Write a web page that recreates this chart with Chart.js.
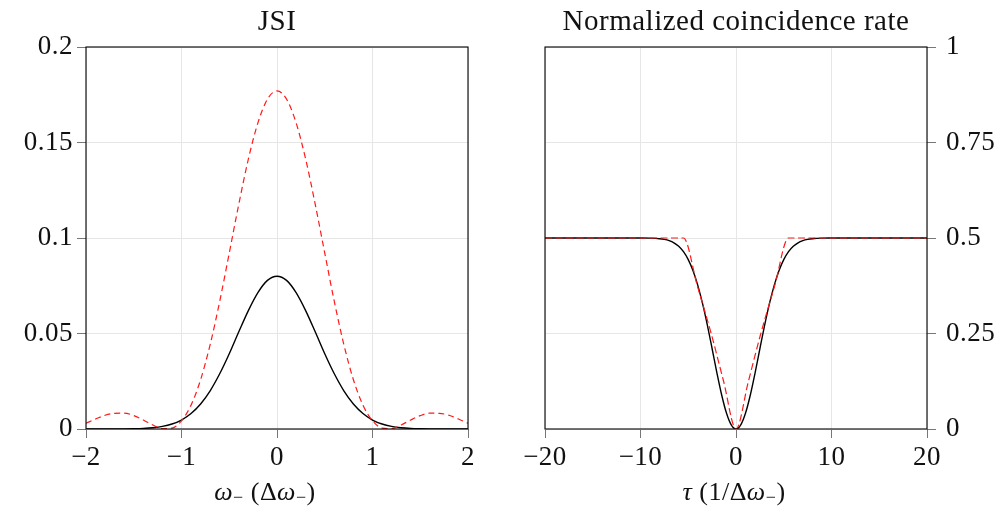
<!DOCTYPE html>
<html><head><meta charset="utf-8">
<script src="https://cdn.jsdelivr.net/npm/chart.js@4"></script>
<style>
html,body{margin:0;padding:0;background:#fff;}
#wrap{position:relative;width:1005px;height:510px;}
#c1{position:absolute;left:0;top:0;width:500px;height:510px;}
#c2{position:absolute;left:500px;top:0;width:505px;height:510px;}
</style></head><body>
<div id="wrap"><canvas id="c1" width="500" height="510"></canvas><canvas id="c2" width="505" height="510"></canvas></div>
<script>
// ---- Data ----
const omega = [-2.0,-1.9,-1.8,-1.7,-1.6,-1.5,-1.4,-1.3,-1.2,-1.1,-1.0,-0.9,-0.8,-0.7,-0.6,-0.5,-0.4,-0.3,-0.2,-0.1,0,
  0.1,0.2,0.3,0.4,0.5,0.6,0.7,0.8,0.9,1.0,1.1,1.2,1.3,1.4,1.5,1.6,1.7,1.8,1.9,2.0];
const jsiGaussian = [0,0,0,0.00002,0.00006,0.00014,0.00031,0.00067,0.00135,0.0026,0.0047,0.0081,0.0131,0.0200,0.0289,0.0394,0.0509,0.0620,0.0714,0.0778,0.0800,
  0.0778,0.0714,0.0620,0.0509,0.0394,0.0289,0.0200,0.0131,0.0081,0.0047,0.0026,0.00135,0.00067,0.00031,0.00014,0.00006,0.00002,0,0,0];
const jsiSinc = [0.0030,0.0052,0.0072,0.0082,0.0083,0.0070,0.0047,0.0021,0.0002,0.0005,0.0043,0.0125,0.0258,0.0442,0.0668,0.0921,0.1177,0.1413,0.1603,0.1727,0.1770,
  0.1727,0.1603,0.1413,0.1177,0.0921,0.0668,0.0442,0.0258,0.0125,0.0043,0.0005,0.0002,0.0021,0.0047,0.0070,0.0083,0.0082,0.0072,0.0052,0.0030];

const tau = [-20,-18,-16,-14,-12,-10,-9,-8,-7.5,-7,-6.5,-6,-5.5,-5,-4.5,-4,-3.5,-3,-2.5,-2,-1.5,-1,-0.5,0,
  0.5,1,1.5,2,2.5,3,3.5,4,4.5,5,5.5,6,6.5,7,7.5,8,9,10,12,14,16,18,20];
const rateGaussian = [0.5,0.5,0.5,0.5,0.5,0.4999,0.4996,0.4981,0.4963,0.4930,0.4874,0.4783,0.4642,0.4435,0.4144,0.3761,0.3281,0.2719,0.2101,0.1472,0.0891,0.0418,0.0108,0,
  0.0108,0.0418,0.0891,0.1472,0.2101,0.2719,0.3281,0.3761,0.4144,0.4435,0.4642,0.4783,0.4874,0.4930,0.4963,0.4981,0.4996,0.4999,0.5,0.5,0.5,0.5,0.5];
const tauSinc = [-20,-5.5,-4.05,-2.6,-1.3,0,1.3,2.6,4.05,5.5,20];
const rateSinc = [0.5,0.5,0.375,0.25,0.125,0,0.125,0.25,0.375,0.5,0.5];

const leftYTicks = [0,0.05,0.1,0.15,0.2];
const leftXTicks = [-2,-1,0,1,2];
const rightYTicks = [0,0.25,0.5,0.75,1];
const rightXTicks = [-20,-10,0,10,20];

const leftTitle = 'JSI';
const rightTitle = 'Normalized coincidence rate';
// axis titles: italic symbols, subscript minus
const leftXTitle = [{t:'\u03c9', it:true}, {t:'\u2212', sub:true}, {t:' (\u0394'}, {t:'\u03c9', it:true}, {t:'\u2212', sub:true}, {t:')'}];
const rightXTitle = [{t:'\u03c4', it:true}, {t:' (1/\u0394'}, {t:'\u03c9', it:true}, {t:'\u2212', sub:true}, {t:')'}];

// ---- helpers ----
const FONT = "'Liberation Serif', 'Times New Roman', serif";
const pts = (xs, ys) => xs.map((x,i)=>({x, y: ys[i]}));
const fmt = v => String(+(+v).toFixed(3)).replace('-', '\u2212');

const spacing = {
  id:'spacing',
  beforeInit(chart){ chart.ctx.letterSpacing = '0.5px'; },
  beforeLayout(chart){ chart.ctx.letterSpacing = '0.5px'; },
  beforeDraw(chart){ chart.ctx.letterSpacing = '0.5px'; }
};

const frame = {
  id:'frame',
  afterDatasetsDraw(chart){
    const a = chart.chartArea, c = chart.ctx;
    c.save(); c.strokeStyle='#000'; c.lineWidth=1.1;
    c.strokeRect(a.left, a.top, a.right-a.left, a.bottom-a.top);
    c.restore();
  }
};

const axisTitle = {
  id:'axisTitle',
  afterDraw(chart, args, opts){
    const c = chart.ctx, a = chart.chartArea;
    c.save();
    c.fillStyle = '#111'; c.textBaseline = 'alphabetic'; c.textAlign = 'left';
    c.letterSpacing = '0.5px';
    const fonts = {n:`26px ${FONT}`, it:`italic 26px ${FONT}`, sub:`18px ${FONT}`};
    const parts = opts.parts.map(p => {
      const f = p.it ? fonts.it : (p.sub ? fonts.sub : fonts.n);
      c.font = f;
      return {t:p.t, f, dy: p.sub ? 3 : 0, w: c.measureText(p.t).width};
    });
    const total = parts.reduce((s,p)=>s+p.w, 0);
    let x = (a.left + a.right)/2 + opts.dx - total/2;
    parts.forEach(p => { c.font = p.f; c.fillText(p.t, x, opts.baseline + p.dy); x += p.w; });
    c.restore();
  }
};

function makeScale(ticksArr, extra){
  return Object.assign({
    type:'linear',
    min: ticksArr[0], max: ticksArr[ticksArr.length-1],
    afterBuildTicks: s => { s.ticks = ticksArr.map(v=>({value:v})); },
    grid:{color:'#e6e6e6', lineWidth:1, tickColor:'#777', tickLength:9, drawTicks:true},
    border:{display:false},
    ticks:{color:'#111', font:{family:FONT, size:27}, padding:4, maxRotation:0, autoSkip:false, callback: v => fmt(v)}
  }, extra);
}

function lineDs(data, color, dash, width){
  return {data, borderColor:color, borderWidth:width, borderDash:dash, pointRadius:0,
    fill:false, cubicInterpolationMode:'monotone', tension:0};
}

const titleOpts = text => ({display:true, fullSize:false, text, color:'#111',
  font:{family:FONT, size:29, weight:'normal', lineHeight:1.2}, padding:{top:5, bottom:7.2}});

Chart.defaults.font.family = FONT;
Chart.defaults.color = '#111';

new Chart(document.getElementById('c1'), {
  type:'line',
  data:{datasets:[
    lineDs(pts(omega, jsiSinc), '#ff1a1a', [6,4], 1.2),
    lineDs(pts(omega, jsiGaussian), '#000', [], 1.4)
  ]},
  options:{
    responsive:false, devicePixelRatio:1, animation:false,
    layout:{padding:{left:0, right:32, top:0, bottom:0}},
    plugins:{legend:{display:false}, tooltip:{enabled:false},
      title: titleOpts(leftTitle),
      axisTitle:{parts:leftXTitle, dx:-12, baseline:500}},
    scales:{
      x: makeScale(leftXTicks, {position:'bottom', afterFit: s => { s.height = 81; }}),
      y: makeScale(leftYTicks, {position:'left', afterFit: s => { s.width = 86; }})
    }
  },
  plugins:[spacing, frame, axisTitle]
});

const sy = makeScale(rightYTicks, {position:'right', afterFit: s => { s.width = 78; }});
sy.ticks = Object.assign({}, sy.ticks, {padding:10});
new Chart(document.getElementById('c2'), {
  type:'line',
  data:{datasets:[
    lineDs(pts(tauSinc, rateSinc), '#ff1a1a', [7,3.5], 1.2),
    lineDs(pts(tau, rateGaussian), '#000', [], 1.4)
  ]},
  options:{
    responsive:false, devicePixelRatio:1, animation:false,
    layout:{padding:{left:45, right:0, top:0, bottom:0}},
    plugins:{legend:{display:false}, tooltip:{enabled:false},
      title: titleOpts(rightTitle),
      axisTitle:{parts:rightXTitle, dx:-2, baseline:500}},
    scales:{
      x: makeScale(rightXTicks, {position:'bottom', afterFit: s => { s.height = 81; }}),
      y: sy
    }
  },
  plugins:[spacing, frame, axisTitle]
});
</script>
</body></html>
